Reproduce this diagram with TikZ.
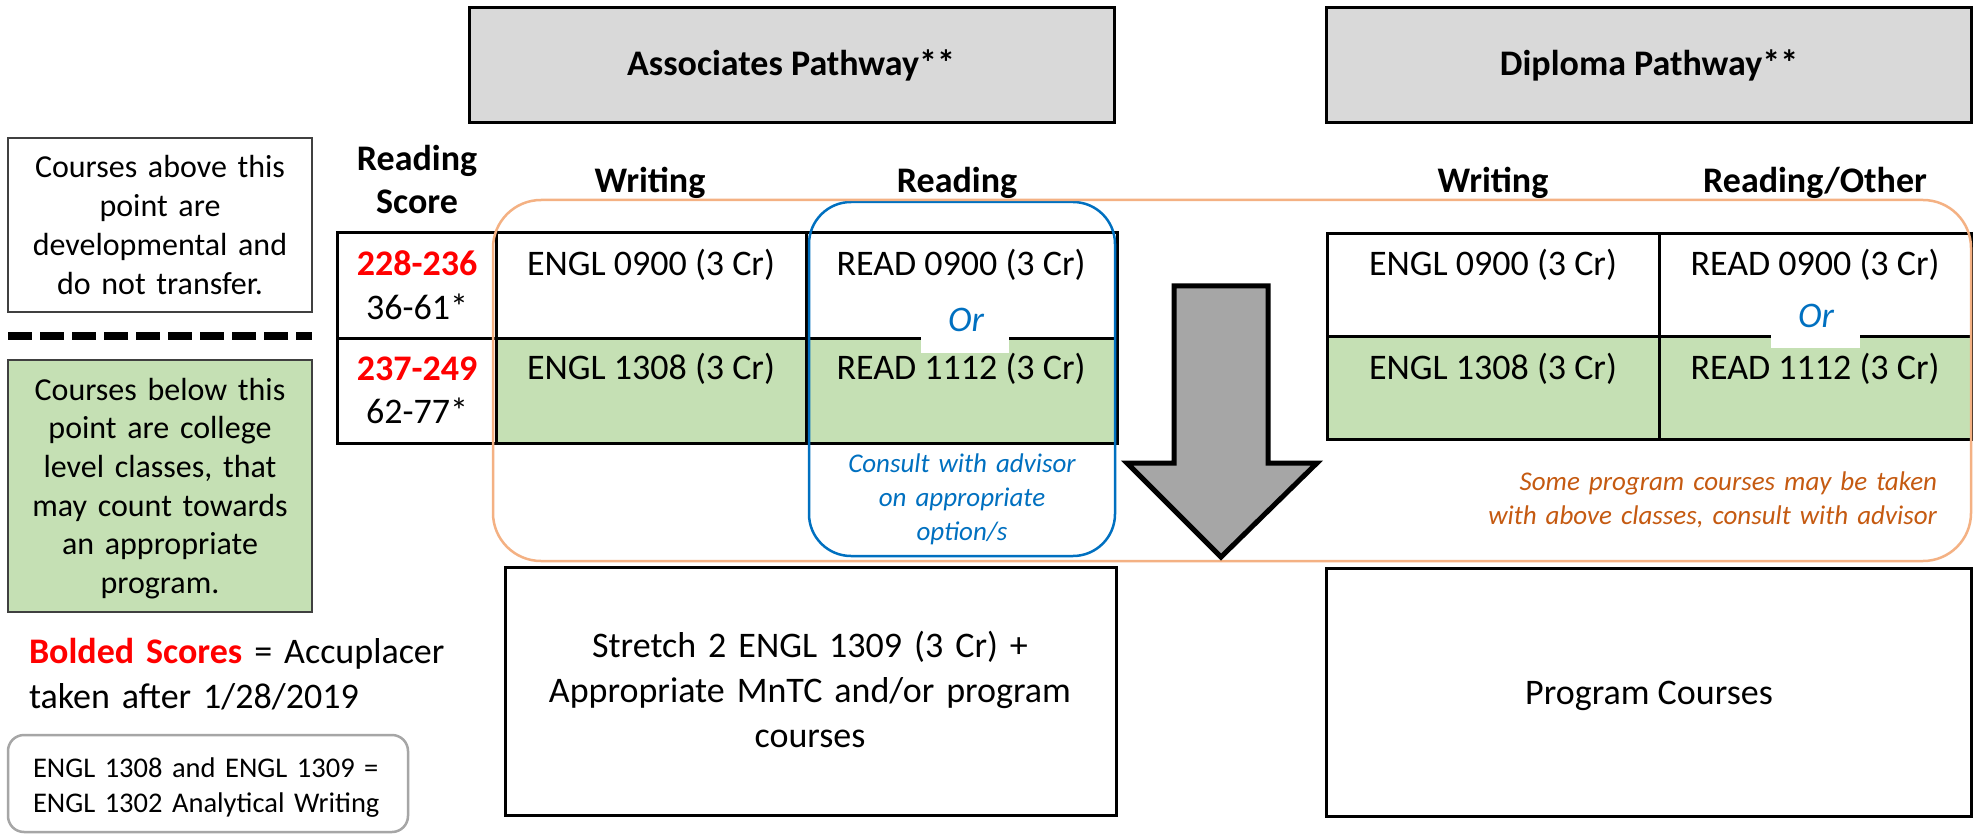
\documentclass[tikz,border=0pt]{standalone}
\usepackage{fontspec}
\setmainfont{Carlito}
\definecolor{hdrgray}{HTML}{D9D9D9}
\definecolor{cellgreen}{HTML}{C5E0B4}
\definecolor{advblue}{HTML}{0070C0}
\definecolor{orangeline}{HTML}{F4B183}
\definecolor{notebrown}{HTML}{C55A11}
\definecolor{arrowgray}{HTML}{A6A6A6}
\definecolor{boxgray}{HTML}{404040}
\definecolor{notegray}{HTML}{A6A6A6}
\newcommand\szL{\fontsize{36}{44}\selectfont}
\newcommand\szM{\fontsize{32}{38.7}\selectfont}
\newcommand\szN{\fontsize{28.5}{35}\selectfont}
\newcommand\szS{\fontsize{27}{34}\selectfont}
\begin{document}
\begin{tikzpicture}[x=1pt,y=-1pt,
  txt/.style={inner sep=0pt, outer sep=0pt, anchor=base, font=\szL},
  mtxt/.style={inner sep=0pt, outer sep=0pt, anchor=base, align=center},
  hdrbox/.style={draw=black, line width=3pt, fill=hdrgray},
  gridline/.style={draw=black, line width=3pt},
  plainbox/.style={draw=black, line width=3pt},
  orbox/.style={fill=white, draw=none},
  ortext/.style={txt, font=\szL\itshape, text=advblue}
]
\useasboundingbox (0,0) rectangle (1973,834);
\fill[white] (0,0) rectangle (1973,834);

% header boxes
\draw[hdrbox] (469,8) rectangle (1114,123);
\draw[hdrbox] (1326,8) rectangle (1971,123);
\node[txt, font=\szL\bfseries] (hA) at (791,76) {Associates Pathway**};
\node[txt, font=\szL\bfseries] (hD) at (1649,76) {Diploma Pathway**};

% left legend boxes
\draw[draw=boxgray, line width=2pt] (8,138) rectangle (312,312);
\node[mtxt, text width=300pt, font=\szM] (above) at (160,178)
  {Courses above this\\point are\\developmental and\\do not transfer.};
\draw[line width=8pt, dash pattern=on 24pt off 8pt] (8,336) -- (312,336);
\draw[draw=boxgray, line width=2pt, fill=cellgreen] (8,360) rectangle (312,612);
\node[mtxt, text width=300pt, font=\szM] (below) at (160,400)
  {Courses below this\\point are college\\level classes, that\\may count towards\\an appropriate\\program.};

\node[inner sep=0pt, outer sep=0pt, anchor=base west, text width=420pt, align=left, font=\fontsize{36}{45}\selectfont] (bolded) at (29,663)
  {{\color{red}\bfseries Bolded Scores} = Accuplacer\\taken after 1/28/2019};
\draw[draw=notegray, line width=2.5pt, rounded corners=16pt] (8,735) rectangle (408,832);
\node[inner sep=0pt, outer sep=0pt, anchor=base west, text width=380pt, align=left, font=\szN] (eqv) at (33,777)
  {ENGL 1308 and ENGL 1309 =\\ENGL 1302 Analytical Writing};

% column headers
\node[mtxt, text width=160pt, font=\fontsize{36}{43}\selectfont\bfseries] (rs) at (417,171) {Reading\\Score};
\node[txt, font=\szL\bfseries] (wA) at (650,193) {Writing};
\node[txt, font=\szL\bfseries] (rA) at (957,193) {Reading};
\node[txt, font=\szL\bfseries] (wD) at (1493,193) {Writing};
\node[txt, font=\szL\bfseries] (rD) at (1815,193) {Reading/Other};

% associates table
\fill[cellgreen] (496,338) rectangle (1117,443);
\draw[gridline] (337,233) rectangle (1117,443);
\draw[gridline] (496,233) -- (496,443);
\draw[gridline] (806,233) -- (806,443);
\draw[gridline] (337,338) -- (1117,338);

% diploma table
\fill[cellgreen] (1327,336) rectangle (1971,439);
\draw[gridline] (1327,234) rectangle (1971,439);
\draw[gridline] (1659,234) -- (1659,439);
\draw[gridline] (1327,336) -- (1971,336);

% scores
\node[mtxt, text width=150pt, font=\szL] (s1) at (417,276) {{\color{red}\bfseries 228-236}\\36-61*};
\node[mtxt, text width=150pt, font=\fontsize{36}{43}\selectfont] (s2) at (417,380) {{\color{red}\bfseries 237-249}\\62-77*};

% courses
\node[txt] (aw1) at (651,276) {ENGL 0900 (3 Cr)};
\node[txt] (ar1) at (961,276) {READ 0900 (3 Cr)};
\node[txt] (aw2) at (651,379) {ENGL 1308 (3 Cr)};
\node[txt] (ar2) at (961,379) {READ 1112 (3 Cr)};
\node[txt] (dw1) at (1493,276) {ENGL 0900 (3 Cr)};
\node[txt] (dr1) at (1815,276) {READ 0900 (3 Cr)};
\node[txt] (dw2) at (1493,379) {ENGL 1308 (3 Cr)};
\node[txt] (dr2) at (1815,379) {READ 1112 (3 Cr)};

% Or labels
\fill[orbox] (921,298) rectangle (1009,353);
\node[ortext] (orA) at (966,331) {Or};
\fill[orbox] (1771,294) rectangle (1860,348);
\node[ortext] (orD) at (1816,327) {Or};

% advisor box
\draw[draw=advblue, line width=2.5pt, rounded corners=42pt] (809,202) rectangle (1115,556);
\node[mtxt, text width=280pt, font=\szS\itshape, text=advblue] (consult) at (962,472)
  {Consult with advisor\\on appropriate\\option/s};

% orange region
\draw[draw=orangeline, line width=2.5pt, rounded corners=48pt] (493,200) rectangle (1971,561);
\node[inner sep=0pt, outer sep=0pt, anchor=base east, text width=480pt, align=right, font=\szS\itshape, text=notebrown] (note) at (1937,490)
  {Some program courses may be taken\\with above classes, consult with advisor};

% arrow
\draw[fill=arrowgray, draw=black, line width=5pt, miter limit=10]
  (1174,286) -- (1268,286) -- (1268,463) -- (1317,463) -- (1221,557) -- (1127,463) -- (1174,463) -- cycle;

% bottom boxes
\draw[plainbox] (505,567) rectangle (1116,815);
\node[mtxt, text width=580pt, font=\fontsize{36}{45}\selectfont] (stretch) at (810,657)
  {Stretch 2 ENGL 1309 (3 Cr) +\\Appropriate MnTC and/or program\\courses};
\draw[plainbox] (1326,568) rectangle (1971,816);
\node[txt] (prog) at (1649,704) {Program Courses};
\end{tikzpicture}
\end{document}
